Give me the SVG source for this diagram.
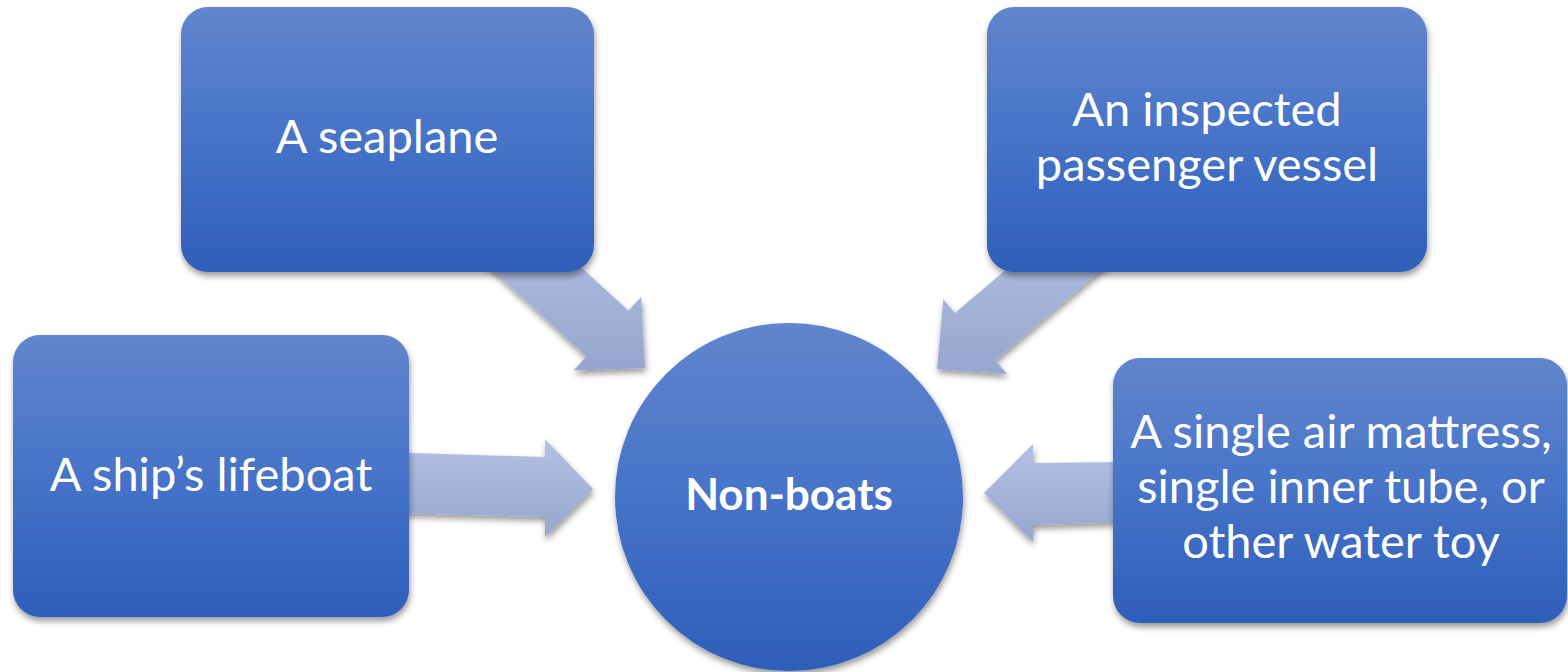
<svg xmlns="http://www.w3.org/2000/svg" width="1568" height="672" viewBox="0 0 1568 672">
<defs>
<linearGradient id="gBox" x1="0" y1="0" x2="0" y2="1">
<stop offset="0" stop-color="#6285CC"/>
<stop offset="0.5" stop-color="#4673C8"/>
<stop offset="1" stop-color="#2E5EB9"/>
</linearGradient>
<linearGradient id="gArrow" x1="0" y1="0" x2="0" y2="1">
<stop offset="0" stop-color="#B4C1E4"/>
<stop offset="1" stop-color="#96A6CE"/>
</linearGradient>
<filter id="sh" x="-10%" y="-10%" width="125%" height="130%">
<feDropShadow dx="1" dy="4" stdDeviation="3" flood-color="#000" flood-opacity="0.4"/>
</filter>
</defs>
<style>
.box{fill:url(#gBox);filter:url(#sh);}
.arr{fill:url(#gArrow);filter:url(#sh);}
.t{font-family:Lato,"Liberation Sans",sans-serif;font-size:47px;fill:#fff;text-anchor:middle;}
.b{font-weight:bold;font-size:44px;}
</style>
<g id="connectors">
<polygon class="arr" points="477.0,255.9 586.4,356.3 573.6,370.4 645,368 641.2,296.7 628.4,310.7 519.0,210.2"/>
<polygon class="arr" points="1069.2,215.8 955.0,313.0 943.3,299.3 937,369 1006.9,373.9 995.2,360.2 1109.4,263.0"/>
<polygon class="arr" points="395,452.6 545,457 545,439 593,489 545,537 545,517 395,513"/>
<polygon class="arr" points="1130,462 1033,463 1033,444 984,493 1033,542 1033,525 1130,522"/>
</g>
<g id="seaplane">
<rect class="box" x="181" y="7" width="413" height="265" rx="27"/>
<text class="t" x="387" y="153">A seaplane</text>
</g>
<g id="passenger">
<rect class="box" x="987" y="7" width="440" height="265" rx="27"/>
<text class="t" x="1207" y="126">An inspected</text>
<text class="t" x="1207" y="181">passenger vessel</text>
</g>
<g id="lifeboat">
<rect class="box" x="13" y="335" width="396" height="282" rx="27"/>
<text class="t" x="211" y="491">A ship’s lifeboat</text>
</g>
<g id="toy">
<rect class="box" x="1113" y="358" width="454" height="265" rx="27"/>
<text class="t" x="1341" y="448">A single air mattress,</text>
<text class="t" x="1341" y="503">single inner tube, or</text>
<text class="t" x="1341" y="558">other water toy</text>
</g>
<g id="nonboats">
<circle class="box" cx="789" cy="497" r="174"/>
<text class="t b" x="789" y="510">Non-boats</text>
</g>
</svg>
